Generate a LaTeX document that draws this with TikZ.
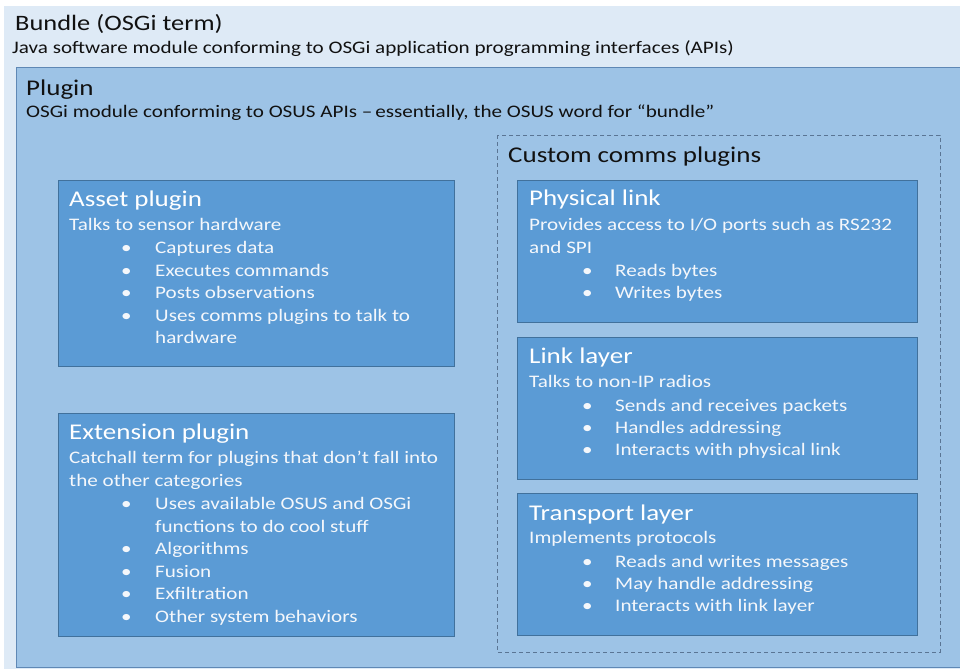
\documentclass[tikz,border=0pt]{standalone}
\usepackage{fontspec}
\setmainfont{Carlito}[FakeStretch=1.2]
\definecolor{bundlebg}{HTML}{DEEAF6}
\definecolor{pluginbg}{HTML}{9DC3E6}
\definecolor{pluginln}{HTML}{5F88B5}
\definecolor{boxbg}{HTML}{5B9BD5}
\definecolor{boxln}{HTML}{41719C}
\definecolor{dashln}{HTML}{5A7594}
\definecolor{boxtxt}{HTML}{F4F7FB}
\definecolor{darktxt}{HTML}{111111}
\tikzset{
  bluebox/.style={fill=boxbg, draw=boxln, line width=0.9pt},
  ttl/.style={anchor=base west, inner sep=0pt, font=\fontsize{22.5}{26}\selectfont, text=white},
  body/.style={anchor=base west, inner sep=0pt, font=\fontsize{17.6}{21}\selectfont, text=boxtxt},
  dttl/.style={ttl, text=darktxt},
  dbody/.style={body, text=darktxt},
}
\begin{document}
\begin{tikzpicture}[x=1pt,y=-1pt]
\useasboundingbox (0,0) rectangle (960,669);
\fill[white] (0,0) rectangle (960,669);
% bundle
\fill[bundlebg] (4,6) rectangle (960,669);
% plugin
\draw[fill=pluginbg, draw=pluginln, line width=0.9pt] (16,67) rectangle (962,667);
% custom comms dashed
\draw[dashln, dashed, dash pattern=on 4pt off 3pt, line width=0.8pt] (497,135) rectangle (940,652);
% inner boxes
\draw[bluebox] (58,180) rectangle (454,366);
\draw[bluebox] (58,413) rectangle (454,636);
\draw[bluebox] (517,180) rectangle (917,322);
\draw[bluebox] (517,337) rectangle (917,479);
\draw[bluebox] (517,493) rectangle (917,635);

% bundle texts
\node[dttl, font=\fontsize{22}{26}\selectfont] (bt) at (15,31) {Bundle (OSGi term)};
\node[dbody] (bs) at (12,54) {Java software module conforming to OSGi application programming interfaces (APIs)};
% plugin texts
\node[dttl] (pt) at (26,95) {Plugin};
\node[dbody] (ps) at (26,117) {OSGi module conforming to OSUS APIs –\,essentially, the OSUS word for “bundle”};
\node[dttl] (ct) at (508,162) {Custom comms plugins};

% asset plugin
\node[ttl] (at) at (69,206) {Asset plugin};
\node[body] (a0) at (69,230) {Talks to sensor hardware};
\foreach \y/\t [count=\i] in {253/Captures data, 276/Executes commands, 298/Posts observations, 321/Uses comms plugins to talk to}{
  \node[body] (ab\i) at (121,\y) {•};
  \node[body] (a\i) at (155,\y) {\t};
}
\node[body] (a5) at (155,343) {hardware};

% extension plugin
\node[ttl] (et) at (69,439) {Extension plugin};
\node[body] (e0) at (69,463) {Catchall term for plugins that don’t fall into};
\node[body] (e0b) at (69,486) {the other categories};
\foreach \y/\t [count=\i] in {509/Uses available OSUS and OSGi, 554/Algorithms, 577/Fusion, 599/Exfiltration, 622/Other system behaviors}{
  \node[body] (eb\i) at (121,\y) {•};
  \node[body] (e\i) at (155,\y) {\t};
}
\node[body] (e6) at (155,532) {functions to do cool stuff};

% physical link
\node[ttl] (plt) at (529,205) {Physical link};
\node[body] (pl0) at (529,230) {Provides access to I/O ports such as RS232};
\node[body] (pl0b) at (529,253) {and SPI};
\foreach \y/\t [count=\i] in {276/Reads bytes, 298/Writes bytes}{
  \node[body] (plb\i) at (582,\y) {•};
  \node[body] (pl\i) at (615,\y) {\t};
}

% link layer
\node[ttl] (llt) at (529,363) {Link layer};
\node[body] (ll0) at (529,387) {Talks to non-IP radios};
\foreach \y/\t [count=\i] in {411/Sends and receives packets, 433/Handles addressing, 455/Interacts with physical link}{
  \node[body] (llb\i) at (582,\y) {•};
  \node[body] (ll\i) at (615,\y) {\t};
}

% transport layer
\node[ttl] (tlt) at (529,520) {Transport layer};
\node[body] (tl0) at (529,543) {Implements protocols};
\foreach \y/\t [count=\i] in {567/Reads and writes messages, 589/May handle addressing, 611/Interacts with link layer}{
  \node[body] (tlb\i) at (582,\y) {•};
  \node[body] (tl\i) at (615,\y) {\t};
}
\end{tikzpicture}
\end{document}
